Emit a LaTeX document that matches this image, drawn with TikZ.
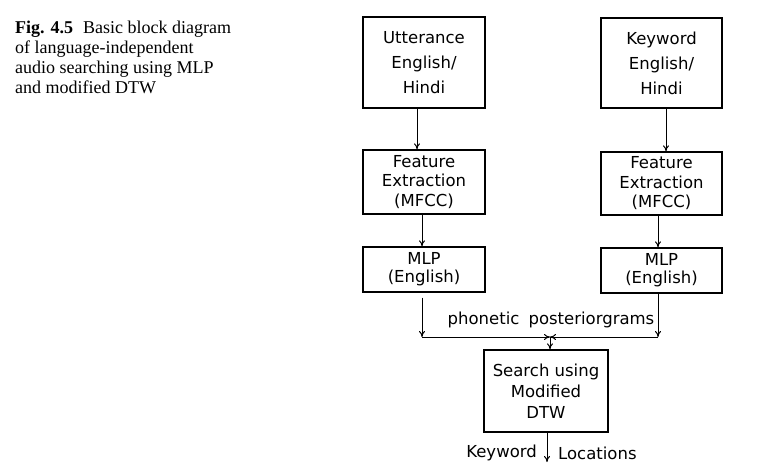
\documentclass[tikz,border=0pt]{standalone}
\usepackage{fontspec}
\setmainfont{Liberation Serif}
\newfontfamily\diagfont{DejaVu Sans}
\usetikzlibrary{positioning, arrows.meta}

\begin{document}
\begin{tikzpicture}[x=1pt, y=-1pt,
  blk/.style={draw, line width=1.3pt, align=center, inner sep=0pt},
  link/.style={-{To[length=6pt, width=6pt]}, line width=1pt},
  lbl/.style={inner sep=0pt, font=\diagfont\fontsize{16.5}{19}\selectfont}]
  \useasboundingbox (0,0) rectangle (758,475);
  \node[anchor=north west, align=left, inner sep=0pt, font=\fontsize{18}{19.8}\selectfont] (cap) at (15,21) {\textbf{Fig. 4.5}\hspace{0.55em}Basic block diagram\\of language-independent\\audio searching using MLP\\and modified DTW};
  \node[blk, minimum width=122pt, minimum height=91pt, font=\diagfont\fontsize{16.5}{25}\selectfont] (utt) at (424,62.5) {Utterance\\English/\\Hindi};
  \node[blk, minimum width=121pt, minimum height=90pt, font=\diagfont\fontsize{16.5}{25}\selectfont] (kw) at (661.5,63) {Keyword\\English/\\Hindi};
  \node[blk, minimum width=122pt, minimum height=64pt, font=\diagfont\fontsize{16.5}{19.5}\selectfont] (feL) at (424,182) {Feature\\Extraction\\(MFCC)};
  \node[blk, minimum width=121pt, minimum height=63pt, font=\diagfont\fontsize{16.5}{19.5}\selectfont] (feR) at (661.5,183.5) {Feature\\Extraction\\(MFCC)};
  \node[blk, minimum width=122pt, minimum height=45pt, font=\diagfont\fontsize{16.5}{18}\selectfont] (mlpL) at (424,269.5) {MLP\\(English)};
  \node[blk, minimum width=121pt, minimum height=45pt, font=\diagfont\fontsize{16.5}{18}\selectfont] (mlpR) at (661.5,270.5) {MLP\\(English)};
  \node[blk, minimum width=124pt, minimum height=82pt, font=\diagfont\fontsize{16.5}{21}\selectfont] (srch) at (546,391) {Search using\\Modified\\DTW};
  \coordinate (jl) at (422,337);
  \coordinate (jr) at (658,337);
  \coordinate (jm) at (550,337);
  \coordinate (out) at (547,462);
  \node[lbl] (ph) at (551,320) {phonetic\hspace{0.55em}posteriorgrams};
  \node[lbl, anchor=east] (kwl) at (537,453) {Keyword};
  \node[lbl, anchor=west] (locl) at (558,453) {Locations};
  \draw[link] ([xshift=-7pt]utt.south) -- ([xshift=-7pt]feL.north);
  \draw[link] ([xshift=4.5pt]kw.south) -- ([xshift=4.5pt]feR.north);
  \draw[link] ([xshift=-2pt]feL.south) -- ([xshift=-2pt]mlpL.north);
  \draw[link] ([xshift=-3.5pt]feR.south) -- ([xshift=-3.5pt]mlpR.north);
  \draw[link, shorten <=5pt] ([xshift=-2pt]mlpL.south) -- (jl);
  \draw[link] ([xshift=-3.5pt]mlpR.south) -- (jr);
  \draw[link] (jl) -- (jm);
  \draw[link] (jr) -- (jm);
  \draw[link] (jm) -- (jm |- srch.north);
  \draw[link] ([xshift=1pt]srch.south) -- (out);
\end{tikzpicture}
\end{document}
